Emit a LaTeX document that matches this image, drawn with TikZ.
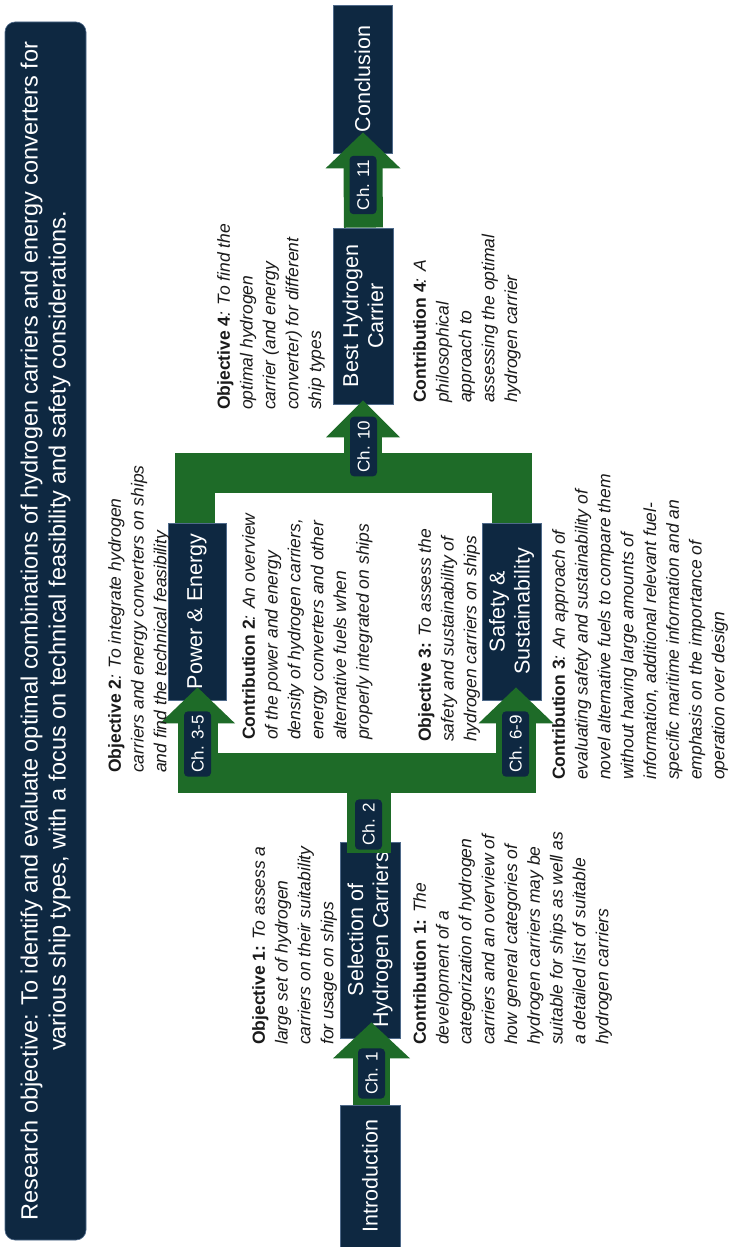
\documentclass[tikz,border=0pt]{standalone}
\usepackage{fontspec}
\setmainfont{Liberation Sans}
\usetikzlibrary{calc}

\definecolor{navy}{HTML}{0E2841}
\definecolor{navyedge}{HTML}{4F6A8A}
\definecolor{flowgreen}{HTML}{1E6B28}
\definecolor{bodytext}{HTML}{1A1A1A}

\tikzset{
  stage/.style={rotate=90, fill=navy, draw=navyedge, line width=0.8pt, text=white,
    align=center, inner sep=2pt, font=\fontsize{21.5}{25}\selectfont},
  chap/.style={rotate=90, fill=navy, rounded corners=4pt, text=white, inner xsep=4pt,
    inner ysep=0pt, minimum height=27pt, font=\fontsize{17}{20}\selectfont},
  note/.style={rotate=90, anchor=north west, align=left, inner sep=0pt, text=bodytext,
    font=\fontsize{17.5}{22.8}\selectfont\itshape},
  shaft/.style={draw=flowgreen, line join=miter, line cap=butt},
  head/.style={fill=flowgreen},
}
\newcommand{\lbl}[1]{\textbf{\upshape #1}}

\begin{document}
\begin{tikzpicture}[x=1pt, y=-1pt]
\useasboundingbox (0,0) rectangle (733,1247);
\fill[white] (0,0) rectangle (733,1247);

% overall research aim
\node[rotate=90, fill=navy, draw=navyedge, line width=0.6pt, rounded corners=10pt,
  minimum width=1218pt, minimum height=81pt, text=white, align=center,
  font=\fontsize{23.5}{28}\selectfont] (aim) at (45.5,631)
  {Research objective: To identify and evaluate optimal combinations of hydrogen carriers and energy converters for\\
   various ship types, with a focus on technical feasibility and safety considerations.};

% thesis stages
\node[stage, minimum width=142pt, minimum height=60pt] (intro) at (370,1176) {Introduction};
\node[stage, minimum width=196pt, minimum height=60pt] (sel) at (370,940) {Selection of\\Hydrogen Carriers};
\node[stage, minimum width=177pt, minimum height=58pt] (pe) at (197,611.5) {Power \& Energy};
\node[stage, minimum width=177pt, minimum height=59pt] (ss) at (511.5,611.5) {Safety \&\\Sustainability};
\node[stage, minimum width=176pt, minimum height=60pt] (best) at (363,316) {Best Hydrogen\\Carrier};
\node[stage, minimum width=148pt, minimum height=59pt] (concl) at (362.5,79) {Conclusion};

% Ch. 1: introduction -> selection
\coordinate (c1base) at ($(sel.west)+(1.5,20)$);
\coordinate (c1tip) at ($(sel.west)+(1.5,-16)$);
\draw[shaft, line width=37pt] ($(intro.east)+(1.5,0)$) -- ($(c1base)+(0,-1)$);
\fill[head] (c1tip) -- ($(c1base)+(-38.5,0)$) -- ($(c1base)+(38.5,0)$) -- cycle;

% Ch. 2 and the split into the two analysis stages
\coordinate (pehead) at ($(pe.west)+(0.5,23)$);
\coordinate (petip) at ($(pe.west)+(0.5,-13)$);
\coordinate (sshead) at ($(ss.west)+(4.5,23)$);
\coordinate (sstip) at ($(ss.west)+(4.5,-13)$);
\coordinate (busL) at ($(pehead)+(0,49.5)$);
\coordinate (busR) at ($(sshead)+(0,49.5)$);
\draw[shaft, line width=40pt] ($(pehead)+(0,-1)$) -- (busL) -- (busR) -- ($(sshead)+(0,-1)$);
\draw[shaft, line width=44pt] ($(sel.east)+(-1,11)$) -- ($(sel.east |- busL)+(-1,0)$);
\fill[head] (petip) -- ($(pehead)+(-37.5,0)$) -- ($(pehead)+(37.5,0)$) -- cycle;
\fill[head] (sstip) -- ($(sshead)+(-37.5,0)$) -- ($(sshead)+(37.5,0)$) -- cycle;

% merge of both stages towards the best carrier
\coordinate (topbus) at ($(pe.east)+(-2,-50)$);
\draw[shaft, line width=40pt] ($(pe.east)+(-2,0)$) -- (topbus) -| (ss.east);
\coordinate (c10base) at ($(best.west)+(0,33)$);
\coordinate (c10tip) at ($(best.west)+(0,-4)$);
\draw[shaft, line width=38pt] (best.west |- topbus) -- ($(c10base)+(0,-1)$);
\fill[head] (c10tip) -- ($(c10base)+(-37,0)$) -- ($(c10base)+(37,0)$) -- cycle;

% Ch. 11: best carrier -> conclusion
\coordinate (c11base) at ($(concl.west)+(0.5,15)$);
\coordinate (c11tip) at ($(concl.west)+(0.5,-21)$);
\draw[shaft, line width=39pt] ($(best.east)+(0.5,0)$) -- ($(c11base)+(0,-1)$);
\fill[head] (c11tip) -- ($(c11base)+(-37.5,0)$) -- ($(c11base)+(37.5,0)$) -- cycle;

% chapter tags
\node[chap] (ch1) at (371.5,1073.5) {Ch. 1};
\node[chap] (ch2) at (368.5,824.5) {Ch. 2};
\node[chap] (ch35) at (197.5,744) {Ch. 3-5};
\node[chap] (ch69) at (515.5,744) {Ch. 6-9};
\node[chap] (ch10) at (363.5,446.5) {Ch. 10};
\node[chap] (ch11) at (363,185) {Ch. 11};

% objectives and contributions
\node[note] (obj1) at (252,1045) {\lbl{Objective 1:} To assess a\\large set of hydrogen\\carriers on their suitability\\for usage on ships};
\node[note] (con1) at (413,1045) {\lbl{Contribution 1:} The\\development of a\\categorization of hydrogen\\carriers and an overview of\\how general categories of\\hydrogen carriers may be\\suitable for ships as well as\\a detailed list of suitable\\hydrogen carriers};
\node[note] (obj2) at (108,773) {\lbl{Objective 2}: To integrate hydrogen\\carriers and energy converters on ships\\and find the technical feasibility};
\node[note] (con2) at (242,740) {\lbl{Contribution 2}: An overview\\of the power and energy\\density of hydrogen carriers,\\energy converters and other\\alternative fuels when\\properly integrated on ships};
\node[note] (obj3) at (418,742) {\lbl{Objective 3:} To assess the\\safety and sustainability of\\hydrogen carriers on ships};
\node[note] (con3) at (552,780) {\lbl{Contribution 3}: An approach of\\evaluating safety and sustainability of\\novel alternative fuels to compare them\\without having large amounts of\\information, additional relevant fuel-\\specific maritime information and an\\emphasis on the importance of\\operation over design};
\node[note] (obj4) at (217,410) {\lbl{Objective 4}: To find the\\optimal hydrogen\\carrier (and energy\\converter) for different\\ship types};
\node[note] (con4) at (413,403) {\lbl{Contribution 4}: A\\philosophical\\approach to\\assessing the optimal\\hydrogen carrier};
\end{tikzpicture}
\end{document}
